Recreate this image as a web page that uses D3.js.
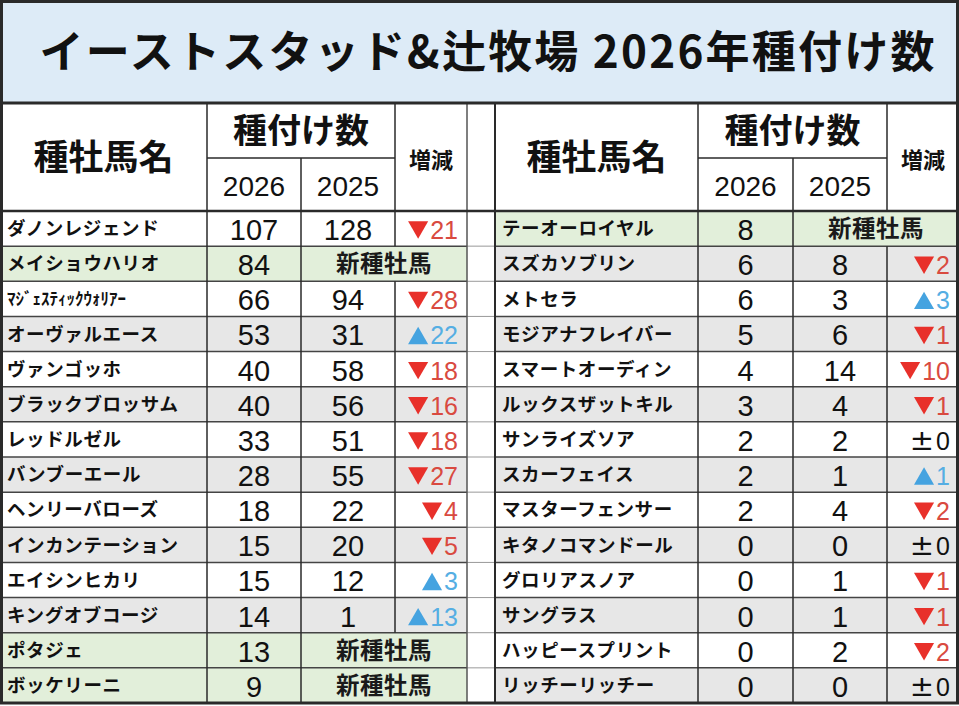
<!DOCTYPE html>
<html>
<head>
<meta charset="utf-8">
<script src="https://cdn.jsdelivr.net/npm/d3@7"></script>
<style>
  body { margin: 0; background: #fff; }
  svg text { font-family: "Noto Sans CJK JP", "Noto Sans", sans-serif; }
  svg text.num { font-family: "Liberation Sans", Arial, sans-serif; }
  svg tspan.pm { font-family: "DejaVu Sans", sans-serif; font-size: 29px; }
</style>
</head>
<body>
<div class="table"></div>
<script>
// data (null = 新種牡馬, no 2025 value)
var title = "イーストスタッド&辻牧場 2026年種付け数";

var leftNames = ["ダノンレジェンド", "メイショウハリオ", "ﾏｼﾞｪｽﾃｨｯｸｳｫﾘｱｰ", "オーヴァルエース",
  "ヴァンゴッホ", "ブラックブロッサム", "レッドルゼル", "バンブーエール", "ヘンリーバローズ",
  "インカンテーション", "エイシンヒカリ", "キングオブコージ", "ポタジェ", "ボッケリーニ"];
var left2026 = [107, 84, 66, 53, 40, 40, 33, 28, 18, 15, 15, 14, 13, 9];
var left2025 = [128, null, 94, 31, 58, 56, 51, 55, 22, 20, 12, 1, null, null];

var rightNames = ["テーオーロイヤル", "スズカソブリン", "メトセラ", "モジアナフレイバー",
  "スマートオーディン", "ルックスザットキル", "サンライズソア", "スカーフェイス", "マスターフェンサー",
  "キタノコマンドール", "グロリアスノア", "サングラス", "ハッピースプリント", "リッチーリッチー"];
var right2026 = [8, 6, 6, 5, 4, 3, 2, 2, 2, 0, 0, 0, 0, 0];
var right2025 = [null, 8, 3, 6, 14, 4, 2, 1, 4, 0, 1, 1, 2, 0];

var yearLabels = ["2026", "2025"];

var W = 959, H = 706;
var titleBottom = 103, subLine = 158, headBottom = 211, tableBottom = 703;

var svg = d3.select(".table").append("svg")
  .attr("width", W)
  .attr("height", H);

// row scale
var y = d3.scaleBand()
  .domain(d3.range(leftNames.length))
  .range([headBottom, tableBottom]);

var triSize = 175;
var triS = Math.sqrt(triSize / (3 * Math.sqrt(3)));
var tri = d3.symbol().type(d3.symbolTriangle).size(triSize);

// title band
svg.append("rect")
  .attr("x", 0).attr("y", 0)
  .attr("width", W).attr("height", titleBottom)
  .attr("fill", "#ddebf7");

svg.append("text")
  .attr("x", 487).attr("y", 52)
  .attr("dy", "0.36em")
  .attr("text-anchor", "middle")
  .attr("font-size", 44)
  .attr("font-weight", "bold")
  .attr("fill", "#111")
  .attr("textLength", 895)
  .attr("lengthAdjust", "spacing")
  .text(title);

// gap column between the two halves
svg.append("rect")
  .attr("x", 467).attr("y", titleBottom)
  .attr("width", 28).attr("height", tableBottom - titleBottom)
  .attr("fill", "#fff");
svg.selectAll(".gapline")
  .data(d3.range(1, leftNames.length))
  .enter().append("line")
  .attr("x1", 467).attr("x2", 495)
  .attr("y1", function(i) { return y(i); })
  .attr("y2", function(i) { return y(i); })
  .attr("stroke", "#999").attr("stroke-width", 1);

function half(names, v26, v25, x0) {
  // column edges: name | 2026 | 2025 | 増減
  var cols = [x0, x0 + 207, x0 + 301, x0 + 395, x0 + 467];
  if (x0 > 0) cols = [x0, x0 + 203, x0 + 298, x0 + 392, 959];
  var g = svg.append("g");

  // header
  g.append("rect")
    .attr("x", cols[0]).attr("y", titleBottom)
    .attr("width", cols[4] - cols[0]).attr("height", headBottom - titleBottom)
    .attr("fill", "#fff");
  g.append("text")
    .attr("x", (cols[0] + cols[1]) / 2).attr("y", 157)
    .attr("dy", "0.36em").attr("text-anchor", "middle")
    .attr("font-size", 35).attr("font-weight", "bold").attr("fill", "#111")
    .text("種牡馬名");
  g.append("text")
    .attr("x", (cols[1] + cols[3]) / 2).attr("y", 131)
    .attr("dy", "0.36em").attr("text-anchor", "middle")
    .attr("font-size", 34).attr("font-weight", "bold").attr("fill", "#111")
    .text("種付け数");
  g.selectAll(".yr")
    .data(yearLabels)
    .enter().append("text")
    .attr("class", "num")
    .attr("x", function(d, i) { return (cols[1 + i] + cols[2 + i]) / 2; })
    .attr("y", 186)
    .attr("dy", "0.36em").attr("text-anchor", "middle")
    .attr("font-size", 28).attr("fill", "#111")
    .text(function(d) { return d; });
  g.append("text")
    .attr("x", (cols[3] + cols[4]) / 2).attr("y", 160)
    .attr("dy", "0.36em").attr("text-anchor", "middle")
    .attr("font-size", 22).attr("font-weight", "bold").attr("fill", "#111")
    .text("増減");

  var rows = g.selectAll(".row")
    .data(names.map(function(n, i) {
      return {name: n, a: v26[i], b: v25[i], i: i};
    }))
    .enter().append("g")
    .attr("transform", function(d) { return "translate(0," + y(d.i) + ")"; });

  var h = y.bandwidth();

  rows.append("rect")
    .attr("x", cols[0])
    .attr("width", cols[4] - cols[0])
    .attr("height", h)
    .attr("fill", function(d) {
      if (d.b == null) return "#e2efda";
      return d.i % 2 ? "#e7e7e7" : "#fff";
    });

  rows.append("text")
    .attr("x", cols[0] + 7).attr("y", h / 2)
    .attr("dy", "0.36em")
    .attr("font-size", function(d) { return /[ｦ-ﾟ]/.test(d.name) ? 17 : 18.5; })
    .attr("font-weight", "bold").attr("fill", "#111")
    .attr("letter-spacing", function(d) { return /[ｦ-ﾟ]/.test(d.name) ? 0 : 0.6; })
    .text(function(d) { return d.name; });

  rows.append("text")
    .attr("class", "num")
    .attr("x", (cols[1] + cols[2]) / 2).attr("y", h / 2 + 1)
    .attr("dy", "0.36em").attr("text-anchor", "middle")
    .attr("font-size", 29).attr("fill", "#111")
    .text(function(d) { return d.a; });

  rows.filter(function(d) { return d.b == null; })
    .append("text")
    .attr("x", (cols[2] + cols[4]) / 2).attr("y", h / 2)
    .attr("dy", "0.36em").attr("text-anchor", "middle")
    .attr("font-size", 23.5).attr("font-weight", "bold").attr("fill", "#1a1a1a")
    .attr("letter-spacing", 0.5)
    .text("新種牡馬");

  var old = rows.filter(function(d) { return d.b != null; });

  old.append("text")
    .attr("class", "num")
    .attr("x", (cols[2] + cols[3]) / 2).attr("y", h / 2 + 1)
    .attr("dy", "0.36em").attr("text-anchor", "middle")
    .attr("font-size", 29).attr("fill", "#111")
    .text(function(d) { return d.b; });

  // 増減: triangle mark + number, or ±0
  var delta = old.append("text")
    .attr("class", "num delta")
    .attr("x", cols[4] - 9).attr("y", h / 2 + 1.5)
    .attr("dy", "0.36em").attr("text-anchor", "end")
    .attr("font-size", 25)
    .attr("fill", function(d) { return d.a < d.b ? "#d94a40" : d.a > d.b ? "#55aee3" : "#111"; });
  delta.filter(function(d) { return d.a == d.b; })
    .append("tspan")
    .attr("class", "pm")
    .text("±");
  delta.append("tspan")
    .attr("dx", function(d) { return d.a == d.b ? 2 : 0; })
    .text(function(d) { return Math.abs(d.a - d.b); });

  old.filter(function(d) { return d.a != d.b; })
    .append("path")
    .attr("d", tri)
    .attr("fill", function(d) { return d.a < d.b ? "#e8302a" : "#45a3e0"; })
    .attr("transform", function(d) {
      var t = d3.select(this.parentNode).select(".delta").node().getComputedTextLength();
      var cx = cols[4] - 9 - t - 2 - Math.sqrt(3) * triS;
      var down = d.a < d.b;
      // centre the triangle's box on the row middle
      var cy = h / 2 + 1.5 + (down ? -triS / 2 : triS / 2);
      return "translate(" + cx + "," + cy + ")" + (down ? " rotate(180)" : "");
    });

  // grid lines
  var line = function(x1, y1, x2, y2, w, c) {
    g.append("line")
      .attr("x1", x1).attr("y1", y1).attr("x2", x2).attr("y2", y2)
      .attr("stroke", c || "#2a2a2a").attr("stroke-width", w);
  };
  d3.range(1, names.length).forEach(function(i) {
    line(cols[0], y(i), cols[4], y(i), 1.5, "#444");
  });
  line(cols[1], subLine, cols[3], subLine, 1.5);
  line(cols[1], titleBottom, cols[1], tableBottom, 1.5);
  line(cols[2], subLine, cols[2], tableBottom, 1.5);
  // 増減 line is broken by the merged 新種牡馬 cells
  line(cols[3], titleBottom, cols[3], headBottom, 1.5);
  names.forEach(function(n, i) {
    if (v25[i] != null) line(cols[3], y(i), cols[3], y(i) + h, 1.5);
  });
}

half(leftNames, left2026, left2025, 0);
half(rightNames, right2026, right2025, 495);

// outer frame and separators
svg.append("line")
  .attr("x1", 467).attr("x2", 467).attr("y1", titleBottom).attr("y2", tableBottom)
  .attr("stroke", "#555").attr("stroke-width", 1.5);
svg.append("line")
  .attr("x1", 495).attr("x2", 495).attr("y1", titleBottom).attr("y2", tableBottom)
  .attr("stroke", "#2a2a2a").attr("stroke-width", 2);
svg.append("line")
  .attr("x1", 0).attr("x2", W).attr("y1", headBottom).attr("y2", headBottom)
  .attr("stroke", "#2a2a2a").attr("stroke-width", 2.5);
svg.append("line")
  .attr("x1", 0).attr("x2", W).attr("y1", titleBottom).attr("y2", titleBottom)
  .attr("stroke", "#2a2a2a").attr("stroke-width", 3);
svg.append("rect")
  .attr("x", 1.5).attr("y", 1.5)
  .attr("width", W - 3).attr("height", tableBottom - 1.5)
  .attr("fill", "none")
  .attr("stroke", "#2a2a2a").attr("stroke-width", 3);
</script>
</body>
</html>
